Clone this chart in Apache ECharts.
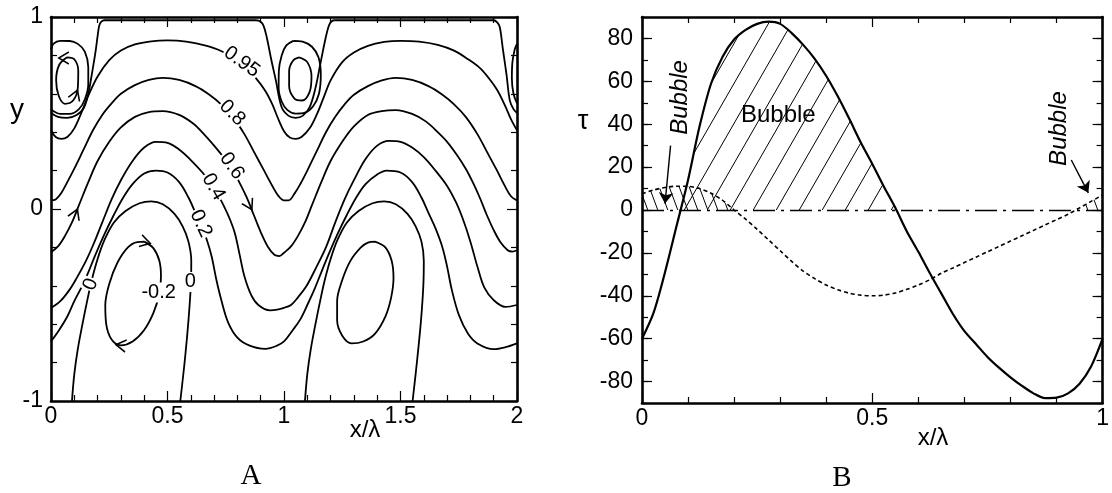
<!DOCTYPE html>
<html><head><meta charset="utf-8">
<script src="https://cdn.jsdelivr.net/npm/echarts@6.0.0/dist/echarts.min.js"></script>
<style>html,body{margin:0;padding:0;background:#fff}#c{width:1112px;height:493px}</style>
</head><body><div id="c"></div>
<script>
// ---------------- Panel A : streamline contours (x/λ, y) ----------------
const psi095 = [[0,0.41],[0.02,0.375],[0.045,0.365],[0.07,0.375],[0.1,0.42],[0.13,0.5],[0.16,0.59],[0.2,0.69],[0.25,0.775],[0.3,0.825],[0.36,0.857],[0.43,0.873],[0.5,0.878],[0.58,0.872],[0.66,0.852],[0.73,0.823],[0.79,0.78],[0.84,0.73],[0.88,0.68],[0.92,0.615],[0.95,0.545],[0.975,0.47],[1.0,0.405],[1.025,0.372],[1.05,0.365],[1.075,0.375],[1.11,0.42],[1.14,0.49],[1.17,0.58],[1.2,0.67],[1.25,0.765],[1.3,0.815],[1.36,0.85],[1.43,0.87],[1.5,0.876],[1.58,0.872],[1.66,0.855],[1.73,0.825],[1.79,0.78],[1.84,0.735],[1.88,0.68],[1.915,0.62],[1.95,0.535],[1.975,0.465],[2,0.41]];
const psi080 = [[0,0.045],[0.02,0.05],[0.045,0.085],[0.07,0.14],[0.1,0.21],[0.14,0.31],[0.18,0.41],[0.22,0.49],[0.26,0.55],[0.3,0.6],[0.36,0.645],[0.42,0.672],[0.48,0.683],[0.55,0.672],[0.62,0.64],[0.68,0.595],[0.73,0.545],[0.78,0.48],[0.83,0.39],[0.87,0.3],[0.91,0.21],[0.95,0.12],[0.975,0.07],[1.0,0.045],[1.02,0.045],[1.045,0.08],[1.07,0.13],[1.1,0.2],[1.14,0.3],[1.18,0.4],[1.22,0.48],[1.26,0.545],[1.3,0.595],[1.36,0.64],[1.42,0.67],[1.48,0.683],[1.55,0.672],[1.62,0.64],[1.68,0.595],[1.73,0.545],[1.78,0.48],[1.83,0.39],[1.87,0.3],[1.91,0.21],[1.95,0.115],[1.975,0.065],[2,0.045]];
const psi060 = [[0,-0.225],[0.03,-0.195],[0.06,-0.14],[0.09,-0.07],[0.12,0.02],[0.16,0.14],[0.2,0.25],[0.25,0.35],[0.3,0.425],[0.36,0.48],[0.42,0.505],[0.48,0.51],[0.55,0.49],[0.61,0.445],[0.66,0.385],[0.7,0.33],[0.74,0.27],[0.78,0.2],[0.81,0.135],[0.84,0.06],[0.87,-0.03],[0.9,-0.12],[0.93,-0.195],[0.96,-0.24],[0.98,-0.245],[1.0,-0.228],[1.03,-0.195],[1.06,-0.14],[1.09,-0.07],[1.12,0.02],[1.16,0.14],[1.2,0.25],[1.25,0.35],[1.3,0.43],[1.36,0.49],[1.42,0.51],[1.48,0.515],[1.55,0.495],[1.61,0.455],[1.66,0.4],[1.7,0.35],[1.74,0.285],[1.78,0.21],[1.81,0.14],[1.84,0.06],[1.87,-0.03],[1.9,-0.11],[1.93,-0.175],[1.96,-0.215],[1.98,-0.222],[2,-0.215]];
const psi040 = [[0,-0.515],[0.04,-0.48],[0.08,-0.42],[0.11,-0.36],[0.15,-0.27],[0.18,-0.19],[0.22,-0.07],[0.26,0.05],[0.3,0.15],[0.35,0.25],[0.4,0.32],[0.45,0.35],[0.5,0.345],[0.55,0.31],[0.6,0.255],[0.65,0.19],[0.7,0.11],[0.74,0.02],[0.77,-0.06],[0.79,-0.13],[0.81,-0.24],[0.83,-0.35],[0.86,-0.45],[0.89,-0.5],[0.94,-0.528],[0.98,-0.522],[1.0,-0.515],[1.03,-0.5],[1.06,-0.46],[1.097,-0.4],[1.14,-0.3],[1.18,-0.2],[1.22,-0.07],[1.26,0.05],[1.3,0.15],[1.35,0.26],[1.4,0.33],[1.45,0.355],[1.5,0.35],[1.55,0.32],[1.6,0.27],[1.65,0.2],[1.7,0.12],[1.74,0.03],[1.77,-0.06],[1.8,-0.17],[1.83,-0.3],[1.86,-0.41],[1.9,-0.475],[1.95,-0.51],[2,-0.5]];
const psi020 = [[0,-0.69],[0.035,-0.63],[0.07,-0.56],[0.1,-0.48],[0.13,-0.41],[0.16,-0.33],[0.19,-0.24],[0.23,-0.13],[0.27,-0.03],[0.31,0.06],[0.35,0.13],[0.4,0.185],[0.45,0.2],[0.5,0.19],[0.55,0.14],[0.59,0.06],[0.62,-0.02],[0.645,-0.09],[0.67,-0.165],[0.69,-0.25],[0.71,-0.37],[0.73,-0.47],[0.76,-0.59],[0.8,-0.67],[0.85,-0.71],[0.92,-0.728],[0.97,-0.712],[1.0,-0.69],[1.035,-0.635],[1.07,-0.575],[1.1,-0.5],[1.13,-0.42],[1.16,-0.33],[1.19,-0.24],[1.23,-0.13],[1.27,-0.03],[1.31,0.06],[1.35,0.13],[1.4,0.18],[1.44,0.2],[1.5,0.19],[1.55,0.14],[1.59,0.06],[1.62,-0.02],[1.65,-0.1],[1.68,-0.2],[1.7,-0.3],[1.72,-0.42],[1.75,-0.55],[1.79,-0.65],[1.83,-0.7],[1.9,-0.73],[1.95,-0.72],[2,-0.7]];
const psi000a = [[0.09,-1],[0.1,-0.86],[0.115,-0.73],[0.135,-0.6],[0.155,-0.48],[0.175,-0.37],[0.2,-0.26],[0.23,-0.16],[0.27,-0.07],[0.32,-0.01],[0.38,0.03],[0.43,0.04],[0.48,0.025],[0.53,-0.025],[0.565,-0.09],[0.59,-0.17],[0.602,-0.27],[0.6,-0.4],[0.59,-0.58],[0.575,-0.78],[0.555,-1]];
const psi000b = [[1.09,-1],[1.1,-0.86],[1.115,-0.73],[1.135,-0.6],[1.155,-0.48],[1.175,-0.37],[1.2,-0.26],[1.23,-0.16],[1.27,-0.07],[1.32,-0.01],[1.38,0.03],[1.43,0.04],[1.48,0.025],[1.53,-0.025],[1.565,-0.09],[1.59,-0.17],[1.6,-0.27],[1.598,-0.4],[1.588,-0.58],[1.572,-0.78],[1.552,-1]];
const psiM02a = [[0.4,-0.17],[0.44,-0.205],[0.465,-0.27],[0.472,-0.35],[0.465,-0.44],[0.44,-0.54],[0.4,-0.63],[0.35,-0.69],[0.3,-0.71],[0.26,-0.68],[0.237,-0.6],[0.233,-0.5],[0.25,-0.39],[0.285,-0.28],[0.33,-0.2],[0.37,-0.172],[0.4,-0.17]];
const psiM02b = [[1.39,-0.17],[1.435,-0.2],[1.462,-0.27],[1.47,-0.36],[1.46,-0.46],[1.435,-0.56],[1.39,-0.65],[1.34,-0.69],[1.29,-0.7],[1.25,-0.66],[1.228,-0.58],[1.228,-0.48],[1.25,-0.37],[1.285,-0.27],[1.33,-0.2],[1.36,-0.175],[1.39,-0.17]];
const psiWall = [[0,0.5],[0.03,0.48],[0.07,0.475],[0.11,0.49],[0.14,0.525],[0.16,0.6],[0.175,0.7],[0.19,0.81],[0.2,0.9],[0.207,0.955],[0.215,0.975],[0.23,0.983],[0.88,0.983],[0.9,0.975],[0.912,0.955],[0.925,0.9],[0.945,0.78],[0.965,0.67],[0.99,0.53],[1.02,0.485],[1.05,0.475],[1.08,0.485],[1.11,0.53],[1.135,0.63],[1.155,0.75],[1.175,0.87],[1.19,0.945],[1.2,0.972],[1.215,0.983],[1.9,0.983],[1.915,0.972],[1.926,0.948],[1.94,0.827],[1.955,0.7],[1.969,0.566],[1.985,0.52],[2,0.5]];
const cellOuterL = [[0,0.83],[0.01,0.86],[0.04,0.876],[0.08,0.875],[0.115,0.86],[0.145,0.82],[0.16,0.74],[0.16,0.65],[0.145,0.57],[0.12,0.52],[0.08,0.495],[0.04,0.495],[0.01,0.51],[0,0.52]];
const cellOuterM = [[1.04,0.876],[1.08,0.872],[1.12,0.845],[1.148,0.79],[1.158,0.7],[1.15,0.6],[1.125,0.535],[1.09,0.502],[1.05,0.497],[1.015,0.515],[0.99,0.56],[0.977,0.63],[0.978,0.72],[0.99,0.8],[1.01,0.852],[1.04,0.876]];
const cellOuterR = [[2,0.86],[1.99,0.83],[1.98,0.76],[1.978,0.68],[1.985,0.6],[2,0.55]];
const cellInnerL = [[0.069,0.79],[0.1,0.78],[0.117,0.72],[0.115,0.63],[0.095,0.565],[0.06,0.548],[0.033,0.59],[0.022,0.67],[0.035,0.75],[0.069,0.79]];
const cellInnerM = [[1.065,0.79],[1.1,0.765],[1.118,0.69],[1.11,0.61],[1.078,0.565],[1.045,0.575],[1.022,0.64],[1.022,0.72],[1.04,0.775],[1.065,0.79]];
const xTicksA = [0, 0.5, 1, 1.5, 2];
const yTicksA = [-1, 0, 1];

// ---------------- Panel B : wall shear stress τ vs x/λ ----------------
const xTau = [0,0.025,0.05,0.075,0.1,0.125,0.15,0.175,0.2,0.225,0.25,0.275,0.3,0.325,0.35,0.375,0.4,0.425,0.45,0.475,0.5,0.525,0.55,0.575,0.6,0.625,0.65,0.675,0.7,0.725,0.75,0.775,0.8,0.825,0.85,0.875,0.9,0.925,0.95,0.975,1];
const tauLower = [-60,-48,-29,-7.5,14,39,59,71.5,79.5,84,86.8,87.8,86.8,82.5,77,70.5,62.5,53,42.5,31.5,21.5,11,1,-10,-19.5,-29.5,-39,-48.5,-56.5,-62.5,-68.5,-73.5,-78,-82,-85.5,-87.7,-87.5,-85.5,-81,-73,-60];
const tauUpper = [7.5,9.3,10.5,11.1,11,10,7.8,4.5,0,-4.3,-9,-14,-19,-24,-28.5,-32,-35,-37.2,-38.8,-39.7,-40,-39.7,-38.7,-37,-35,-32.5,-29.5,-27,-24.5,-22,-19.5,-17,-14.5,-12,-9.5,-7,-4.5,-2,1,4,7];
const xTicksB = [0, 0.5, 1];
const tauTicks = [-80,-60,-40,-20,0,20,40,60,80];

// ---------------- helpers ----------------
const FONT = '"Liberation Sans", Arial, Helvetica, sans-serif';
const K = '#000';
const CHEVRON = 'path://M0,0L10,6L0,12';
function hatch(w, h, slash) {
  const c = document.createElement('canvas'); c.width = w; c.height = h;
  const g = c.getContext('2d'); g.strokeStyle = K; g.lineWidth = 1;
  g.beginPath();
  for (let k = -1; k <= 1; k++) {
    if (slash) { g.moveTo(k * w, h); g.lineTo((k + 1) * w, 0); }
    else { g.moveTo(k * w, 0); g.lineTo((k + 1) * w, h); }
  }
  g.stroke();
  return c;
}
const pair = (xs, ys) => xs.map((x, i) => [x, ys[i]]);
const positivePart = (xs, ys) => xs.map((x, i) => [x, Math.max(ys[i], 0)]);

function xAx(grid, min, max, pos, labels) {
  return { type: 'value', gridIndex: grid, min, max, interval: 0.5, position: pos,
    axisLine: { show: true, onZero: false, lineStyle: { color: K, width: 2.6 } },
    axisTick: { show: true, inside: true, length: 10, lineStyle: { color: K, width: 1.2 } },
    minorTick: { show: true, splitNumber: 5, length: 6, lineStyle: { color: K, width: 1.2 } },
    axisLabel: labels ? { show: true, customValues: labels, color: K, fontSize: 23, fontFamily: FONT, margin: 4 } : { show: false },
    splitLine: { show: false }, minorSplitLine: { show: false } };
}
function yAxA(pos, labels) {
  return { type: 'value', gridIndex: 0, min: -1, max: 1, interval: 1, position: pos,
    axisLine: { show: true, onZero: false, lineStyle: { color: K, width: 2.6 } },
    axisTick: { show: true, inside: true, length: 10, lineStyle: { color: K, width: 1.2 } },
    minorTick: { show: true, splitNumber: 5, length: 6, lineStyle: { color: K, width: 1.2 } },
    axisLabel: labels ? { show: true, customValues: labels, color: K, fontSize: 23, fontFamily: FONT, margin: 8 } : { show: false },
    splitLine: { show: false }, minorSplitLine: { show: false } };
}
function yAxBminor(pos, labels) {
  return { type: 'value', gridIndex: 1, min: -90, max: 90, interval: 10, position: pos,
    axisLine: { show: true, onZero: false, lineStyle: { color: K, width: 2.6 } },
    axisTick: { show: true, inside: true, length: 6, lineStyle: { color: K, width: 1.2 } },
    axisLabel: labels ? { show: true, customValues: labels, color: K, fontSize: 23, fontFamily: FONT, margin: 9 } : { show: false },
    splitLine: { show: false } };
}
function yAxBmajor(pos) {
  return { type: 'value', gridIndex: 1, min: -90, max: 90, interval: 10, position: pos,
    axisLine: { show: false, onZero: false },
    axisTick: { show: true, inside: true, length: 10, customValues: tauTicks, lineStyle: { color: K, width: 1.2 } },
    axisLabel: { show: false }, splitLine: { show: false } };
}
// direction chevron drawn on a streamline (angle in degrees, counter-clockwise)
const chev = (coord, angle) => ({ coord, symbol: CHEVRON, symbolSize: [10, 12], symbolRotate: angle,
  itemStyle: { color: 'rgba(0,0,0,0)', borderColor: K, borderWidth: 1.5 }, label: { show: false } });

function contour(data, mp) {
  const s = { type: 'line', xAxisIndex: 0, yAxisIndex: 0, data, showSymbol: false, symbol: 'none',
    smooth: 0.35, lineStyle: { color: K, width: 1.8 }, z: 3, silent: true };
  if (mp) s.markPoint = { symbol: 'circle', symbolSize: 1, itemStyle: { color: 'rgba(0,0,0,0)' }, silent: true,
    label: { show: true, position: 'inside', color: K, fontSize: 20, fontFamily: FONT, backgroundColor: '#fff', padding: [0, 1] },
    data: mp };
  return s;
}

const chart = echarts.init(document.getElementById('c'), null, { renderer: 'canvas' });
chart.setOption({
  animation: false,
  backgroundColor: '#fff',
  grid: [
    { left: 51, top: 17, width: 466, height: 384 },
    { left: 642, top: 17, width: 466, height: 386 }
  ],
  xAxis: [ xAx(0, 0, 2, 'bottom', xTicksA), xAx(0, 0, 2, 'top', null),
           xAx(1, 0, 1, 'bottom', xTicksB), xAx(1, 0, 1, 'top', null) ],
  yAxis: [ yAxA('left', yTicksA), yAxA('right', null),
           yAxBminor('left', tauTicks), yAxBmajor('left'), yAxBminor('right', null), yAxBmajor('right') ],
  graphic: [
    { type: 'text', x: 17, y: 110, style: { text: 'y', font: '28px ' + FONT, fill: K, align: 'center', verticalAlign: 'middle' } },
    { type: 'text', x: 365, y: 430, style: { text: 'x/λ', font: '24px ' + FONT, fill: K, align: 'center', verticalAlign: 'middle' } },
    { type: 'text', x: 251, y: 476, style: { text: 'A', font: '29px "Liberation Serif", "Times New Roman", serif', fill: K, align: 'center', verticalAlign: 'middle' } },
    { type: 'text', x: 583, y: 122, style: { text: 'τ', font: '27px ' + FONT, fill: K, align: 'center', verticalAlign: 'middle' } },
    { type: 'text', x: 933, y: 438, style: { text: 'x/λ', font: '24px ' + FONT, fill: K, align: 'center', verticalAlign: 'middle' } },
    { type: 'text', x: 842, y: 478, style: { text: 'B', font: '29px "Liberation Serif", "Times New Roman", serif', fill: K, align: 'center', verticalAlign: 'middle' } }
  ],
  series: [
    contour(psi095, [{ coord: [0.819, 0.766], label: { formatter: '0.95', rotate: -36 } }]),
    contour(psi080, [{ coord: [0.778, 0.5], label: { formatter: '0.8', rotate: -45 } }]),
    contour(psi060, [{ coord: [0.776, 0.224], label: { formatter: '0.6', rotate: -55 } },
                     chev([0.105, -0.025], 67), chev([0.852, 0.02], -62)]),
    contour(psi040, [{ coord: [0.697, 0.115], label: { formatter: '0.4', rotate: -60 } }]),
    contour(psi020, [{ coord: [0.643, -0.076], label: { formatter: '0.2', rotate: -65 } }]),
    contour(psi000a, [{ coord: [0.171, -0.392], label: { formatter: '0', rotate: 70 } },
                      { coord: [0.598, -0.38], label: { formatter: '0', rotate: 0 } }]),
    contour(psi000b),
    contour(psiM02a, [{ coord: [0.462, -0.435], label: { formatter: '-0.2', rotate: 0 } },
                      chev([0.405, -0.172], -15), chev([0.3, -0.71], 172)]),
    contour(psiM02b),
    contour(psiWall), contour(cellOuterL), contour(cellOuterM), contour(cellOuterR),
    contour(cellInnerL, [chev([0.055, 0.786], 180), chev([0.106, 0.595], 69)]),
    contour(cellInnerM),
    // Panel B hatched bubbles
    { type: 'line', xAxisIndex: 2, yAxisIndex: 2, data: positivePart(xTau, tauLower), showSymbol: false, symbol: 'none',
      smooth: 0.3, lineStyle: { width: 0, opacity: 0 }, silent: true, z: 1,
      areaStyle: { color: { image: hatch(23, 40, true), repeat: 'repeat' }, opacity: 1 } },
    { type: 'line', xAxisIndex: 2, yAxisIndex: 2, data: positivePart(xTau, tauUpper), showSymbol: false, symbol: 'none',
      smooth: 0.3, lineStyle: { width: 0, opacity: 0 }, silent: true, z: 1,
      areaStyle: { color: { image: hatch(10, 27, false), repeat: 'repeat' }, opacity: 1 } },
    { type: 'line', xAxisIndex: 2, yAxisIndex: 2, data: pair(xTau, tauLower), showSymbol: false, symbol: 'none',
      smooth: 0.3, lineStyle: { color: K, width: 2.2 }, silent: true, z: 3,
      markLine: { silent: true, symbol: 'none', animation: false, label: { show: false },
        lineStyle: { color: K, width: 1.3, type: [22, 6, 3, 6] }, data: [{ yAxis: 0 }] },
      markPoint: { symbol: 'circle', symbolSize: 1, itemStyle: { color: 'rgba(0,0,0,0)' }, silent: true,
        label: { show: true, position: 'inside', color: K, fontSize: 24, fontFamily: FONT },
        data: [ { coord: [0.296, 44.3], label: { formatter: 'Bubble' } },
                { coord: [0.0836, 52.5], label: { formatter: 'Bubble', rotate: 90, fontStyle: 'italic' } },
                { coord: [0.907, 38], label: { formatter: 'Bubble', rotate: 90, fontStyle: 'italic' } } ] } },
    { type: 'line', xAxisIndex: 2, yAxisIndex: 2, data: pair(xTau, tauUpper), showSymbol: false, symbol: 'none',
      smooth: 0.3, lineStyle: { color: K, width: 1.6, type: [4, 3] }, silent: true, z: 3,
      markLine: { silent: true, symbol: ['none', 'arrow'], symbolSize: 11, animation: false, label: { show: false },
        lineStyle: { color: K, width: 1.4, type: 'solid' },
        data: [ [ { coord: [0.062, 30] }, { coord: [0.05, 3] } ],
                [ { coord: [0.932, 23.3] }, { coord: [0.969, 8] } ] ] } }
  ]
});
</script></body></html>
